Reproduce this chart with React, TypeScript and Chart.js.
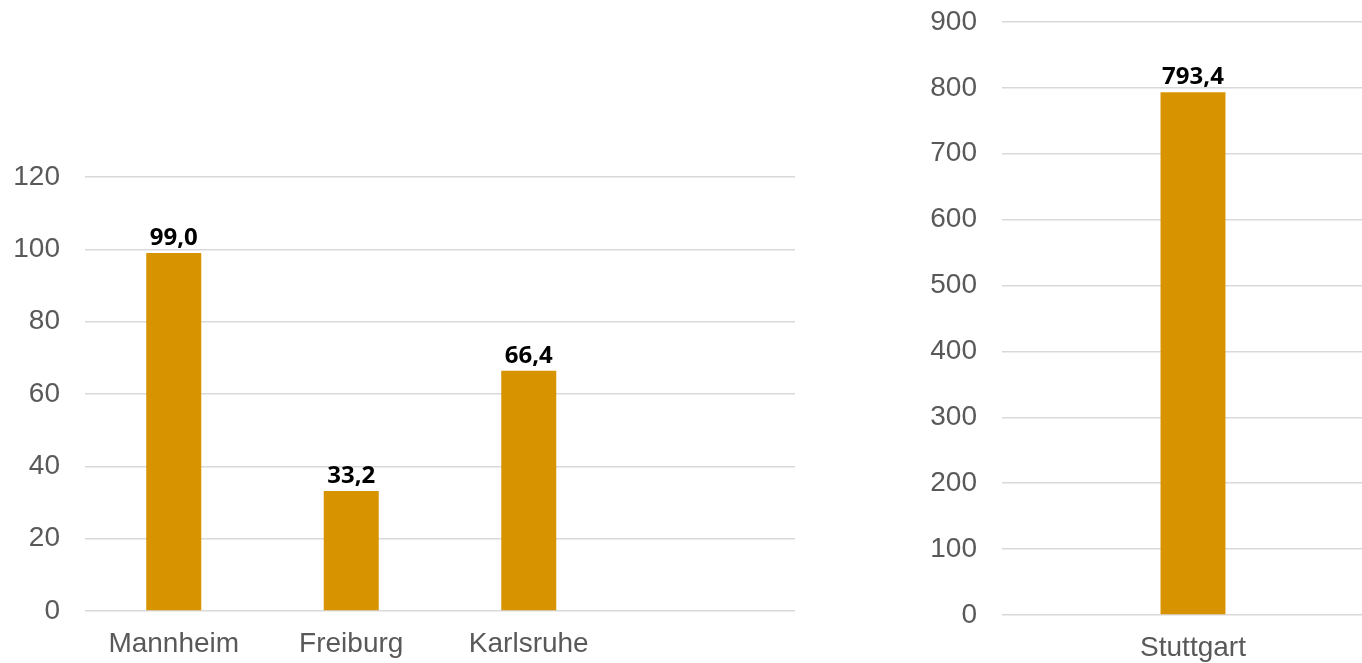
import React, { useEffect, useRef } from "react";
import { Chart, registerables } from "chart.js";

Chart.register(...registerables);

const leftCategories = ["Mannheim", "Freiburg", "Karlsruhe", ""];
const leftValues = [99.0, 33.2, 66.4, null];
const rightCategories = ["Stuttgart"];
const rightValues = [793.4];
const leftTicks = { min: 0, max: 120, step: 20 };
const rightTicks = { min: 0, max: 900, step: 100 };

const BAR_COLOR = "#D89400";
const TICK_COLOR = "#595959";
const GRID_COLOR = "#D9D9D9";
const TICK_FONT = { family: "'Liberation Sans', Arial, sans-serif", size: 28 };

const labelPlugin = {
  id: "valueLabels",
  afterDatasetsDraw(chart: any) {
    const ctx = chart.ctx;
    const meta = chart.getDatasetMeta(0);
    const data = chart.data.datasets[0].data;
    ctx.save();
    ctx.font = "bold 24px 'Noto Sans', 'Open Sans', sans-serif";
    ctx.fillStyle = "#000000";
    ctx.textAlign = "center";
    ctx.textBaseline = "alphabetic";
    meta.data.forEach((bar: any, i: number) => {
      const v = data[i];
      if (v === null || v === undefined) return;
      const txt = Number(v).toFixed(1).replace(".", ",");
      ctx.fillText(txt, bar.x, bar.y - 8);
    });
    ctx.restore();
  },
};

function makeConfig(
  labels: string[],
  values: (number | null)[],
  ticks: { min: number; max: number; step: number },
  barPct: number,
  yWidth: number,
  xHeight: number,
  pad: { top: number; right: number }
): any {
  return {
    type: "bar",
    data: {
      labels,
      datasets: [
        {
          data: values,
          backgroundColor: BAR_COLOR,
          borderWidth: 0,
          barPercentage: barPct,
          categoryPercentage: 1,
        },
      ],
    },
    options: {
      responsive: false,
      animation: false,
      maintainAspectRatio: false,
      layout: { padding: { top: pad.top, right: pad.right, left: 0, bottom: 0 } },
      plugins: { legend: { display: false }, tooltip: { enabled: false } },
      scales: {
        x: {
          grid: { display: false, drawTicks: false },
          border: { display: false },
          ticks: { color: TICK_COLOR, font: TICK_FONT, padding: 16, maxRotation: 0 },
          afterFit(scale: any) {
            scale.height = xHeight;
            scale.paddingLeft = 0;
            scale.paddingRight = 0;
          },
        },
        y: {
          min: ticks.min,
          max: ticks.max,
          grid: { color: GRID_COLOR, lineWidth: 1.5, drawTicks: false },
          border: { display: false },
          ticks: {
            stepSize: ticks.step,
            color: TICK_COLOR,
            font: TICK_FONT,
            padding: 25,
          },
          afterFit(scale: any) {
            scale.width = yWidth;
            scale.paddingTop = 0;
            scale.paddingBottom = 0;
          },
        },
      },
    },
    plugins: [labelPlugin],
  };
}

export default function App() {
  const leftRef = useRef<HTMLCanvasElement>(null);
  const rightRef = useRef<HTMLCanvasElement>(null);

  useEffect(() => {
    const left = new Chart(
      leftRef.current!,
      makeConfig(leftCategories, leftValues, leftTicks, 0.31, 85, 52, { top: 177, right: 45 })
    );
    const right = new Chart(
      rightRef.current!,
      makeConfig(rightCategories, rightValues, rightTicks, 0.17, 102, 48, { top: 22, right: 0 })
    );
    return () => {
      left.destroy();
      right.destroy();
    };
  }, []);

  return (
    <div
      style={{
        position: "fixed",
        left: 0,
        top: 0,
        width: 1362,
        height: 663,
        overflow: "hidden",
        background: "#ffffff",
      }}
    >
      <canvas
        ref={leftRef}
        width={840}
        height={663}
        style={{ position: "absolute", left: 0, top: 0, width: 840, height: 663 }}
      />
      <canvas
        ref={rightRef}
        width={484}
        height={663}
        style={{ position: "absolute", left: 900, top: 0, width: 484, height: 663 }}
      />
    </div>
  );
}
